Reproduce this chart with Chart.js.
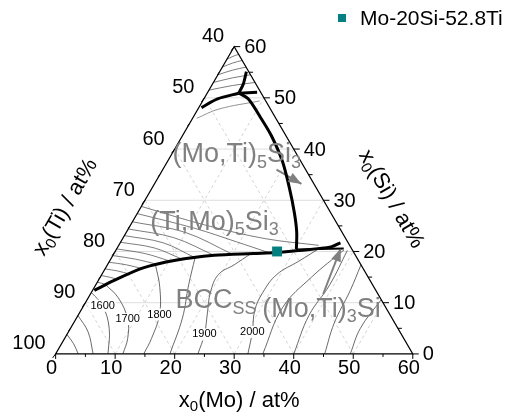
<!DOCTYPE html>
<html>
<head>
<meta charset="utf-8">
<script src="https://cdn.jsdelivr.net/npm/chart.js@4.4.0/dist/chart.umd.min.js"></script>
<style>
body{margin:0;background:#fff}
canvas{display:block}
</style>
</head>
<body>
<canvas id="c" width="511" height="416"></canvas>
<script>
// all compositions are [x(Mo), x(Si)] in at%, x(Ti) = 100 - Mo - Si
var alloyName = 'Mo-20Si-52.8Ti';
var alloy = [[27.2, 20]];

var moTicks = [0, 10, 20, 30, 40, 50, 60];
var siTicks = [0, 10, 20, 30, 40, 50, 60];
var tiTicks = [100, 90, 80, 70, 60, 50, 40];

// thick phase boundaries (liquidus valleys)
var valleyBcc = [[0.3,12.4],[2.6,14.3],[6.3,16.8],[11,18.3],[17,19.25],[23.4,19.6],[27.35,19.8],[30.8,20.2],[35.8,20.9],[37.0,21.7]];
var valleyBcc2 = [[30.2,20.4],[34,20.5],[38.1,20.6]];
var valley53 = [[5.4,50.9],[7.45,49.8],[11.1,46.4],[14.95,42.6],[19.3,37.6],[23,32.5],[26.3,27.6],[28.6,23.8],[30.2,20.5]];
var valleyTopLeft = [[0.45,48.1],[2.3,49.8],[5.3,50.9]];
var valleyTopUp = [[5.3,50.9],[5.2,52.6],[4.5,55.1]];
var valleyTopRight = [[5.3,50.9],[8.3,51.1]];

// (Ti,Mo)5Si3 liquidus isotherms (dense hatching)
var hatchLeft = [
  [[0,14],[0.8,13.8],[1.5,13.6]],
  [[0,15.3],[1.5,15],[3,14.6]],
  [[0,16.6],[2.3,16.2],[4.6,15.6]],
  [[0,17.9],[3.2,17.4],[6.4,16.6]],
  [[0,19.2],[4.2,18.5],[8.3,17.5]],
  [[0,20.5],[5.2,19.6],[10.2,18.1]],
  [[0,21.8],[6.2,20.7],[12,18.5]],
  [[0,23.1],[7.2,21.7],[14,18.8]],
  [[0,24.4],[8.5,22.7],[17,19.25]],
  [[0,25.8],[10,23.7],[20,19.45]],
  [[0,27.4],[11.2,24.5],[19.4,21.9],[26,19.75]],
  [[0,28.8],[12.4,25.2],[24,22.5],[33.6,21.2]]
];
// Si-rich corner isotherms
var hatchTop = [
  [[0,51.5],[3.5,52.4],[7,53]],
  [[0,53],[2.75,53.9],[5.5,54.5]],
  [[0,54.5],[2,55.4],[4,56]],
  [[0,56],[1.35,56.8],[2.7,57.3]],
  [[0,57.5],[0.75,58.1],[1.5,58.5]]
];
var arc53 = [[0.7,46],[3.5,47.8],[9.6,49.4]];

// BCC and (Mo,Ti)3Si liquidus isotherms
var isoLines = [
  [[0,3.8],[2,2],[3.8,0]],
  [[0,7.5],[3.3,4.3],[6.3,0]],
  [[0,12],[3.2,9.4],[6.5,5],[8.8,0]],
  [[1.5,13.6],[5,11],[8.7,6.8],[10.6,3],[11.3,0]],
  [[8,17.5],[11,13],[13.6,7.7],[14.6,3],[14.8,0]],
  [[14,18.9],[15.6,13.5],[17.8,7],[19.2,0]],
  [[23,19.55],[21.3,17.4],[19.6,15.5],[20,12],[21.5,8],[23.1,3.8],[23.9,0]],
  [[34,20.6],[31.8,18.1],[29.4,15.5],[28.8,12],[29.2,8.5],[30.9,4.3],[32.3,0]],
  [[34.8,0],[33.6,9],[35.5,15],[38.3,20.3]],
  [[40,0],[38.8,7.5],[39.3,13.5],[38.9,20.2]],
  [[45.2,0],[43.8,6],[43.3,12.4],[42.6,17.4]],
  [[49.5,0],[48.7,5],[49.4,10.6]]
];
var isoNames = ['1600', '1700', '1800', '1900', '2000'];
var isoAt = [[3.2,9.4],[8.7,6.8],[13.6,7.7],[23.1,3.8],[30.9,4.3]];

// arrows from phase labels
var arrow53 = [[19.1,36.0],[24.7,33.2]];
var arrow3Si = [[39.1,11.7],[37.6,20.6]];

// phase labels: [text parts, anchor (left, baseline)]
var phaseLabels = [
  [[['(Mo,Ti)',0],['5',1],['Si',0],['3',1]], [0.93,37.4]],
  [[['(Ti,Mo)',0],['5',1],['Si',0],['3',1]], [3.8,24.2]],
  [[['BCC',0],['SS',1]], [15.7,8.9]],
  [[['(Mo,Ti)',0],['3',1],['Si',0]], [31.1,7.2]]
];

var FONT = 'Arial, "Liberation Sans", sans-serif';
var GRAY = '#808080';
var TEAL = '#008080';

function T(mo, si) { return {x: mo + si / 2, y: si * Math.sqrt(3) / 2}; }
function pts(arr) { return arr.map(function (p) { return T(p[0], p[1]); }); }
function curve(arr, color, width, tension) {
  return {data: pts(arr), showLine: true, borderColor: color, borderWidth: width,
    pointRadius: 0, tension: tension, fill: false};
}

var datasets = [];
datasets.push({label: alloyName, data: pts(alloy), pointStyle: 'rect', pointRadius: 7,
  backgroundColor: TEAL, borderColor: TEAL, borderWidth: 0, showLine: false});
[valleyBcc, valley53, valleyTopLeft, valleyTopUp].forEach(function (v) { datasets.push(curve(v, '#000', 3, 0.3)); });
datasets.push(curve(valleyBcc2, '#000', 2, 0.2));
datasets.push(curve(valleyTopRight, '#000', 3, 0));
datasets.push(curve(arrow53, GRAY, 2, 0));
datasets.push(curve(arrow3Si, GRAY, 2, 0));
hatchLeft.forEach(function (h) { datasets.push(curve(h, '#5a5a5a', 0.8, 0.35)); });
hatchTop.forEach(function (h) { datasets.push(curve(h, '#5a5a5a', 0.8, 0.35)); });
datasets.push(curve(arc53, '#777', 0.8, 0.4));
isoLines.forEach(function (h) { datasets.push(curve(h, '#444', 0.8, 0.4)); });

function rich(ctx, parts, x, y, size, color, align) {
  var subSize = Math.round(size * 0.68);
  var w = 0;
  parts.forEach(function (p) {
    ctx.font = (p[1] ? subSize : size) + 'px ' + FONT;
    w += ctx.measureText(p[0]).width;
  });
  var cx = align === 'center' ? x - w / 2 : x;
  ctx.fillStyle = color;
  ctx.textAlign = 'left';
  ctx.textBaseline = 'alphabetic';
  parts.forEach(function (p) {
    ctx.font = (p[1] ? subSize : size) + 'px ' + FONT;
    ctx.fillText(p[0], cx, y + (p[1] ? size * 0.2 : 0));
    cx += ctx.measureText(p[0]).width;
  });
}

var ternaryPlugin = {
  id: 'ternary',
  beforeDatasetsDraw: function (chart) {
    var ctx = chart.ctx, sx = chart.scales.x, sy = chart.scales.y;
    function P(mo, si) { var c = T(mo, si); return [sx.getPixelForValue(c.x), sy.getPixelForValue(c.y)]; }
    function seg(a, b) { ctx.beginPath(); ctx.moveTo(a[0], a[1]); ctx.lineTo(b[0], b[1]); ctx.stroke(); }
    ctx.save();
    ctx.lineWidth = 0.8;
    for (var k = 10; k < 60; k += 10) {
      ctx.strokeStyle = '#d4d4d4';
      ctx.setLineDash([]);
      seg(P(0, k), P(60 - k, k));
      ctx.strokeStyle = '#c8c8c8';
      ctx.setLineDash([3, 3]);
      seg(P(k, 0), P(k, 60 - k));
      seg(P(k, 0), P(0, k));
    }
    ctx.restore();
  },
  afterDatasetsDraw: function (chart) {
    var ctx = chart.ctx, sx = chart.scales.x, sy = chart.scales.y;
    function P(mo, si) { var c = T(mo, si); return [sx.getPixelForValue(c.x), sy.getPixelForValue(c.y)]; }
    ctx.save();
    // triangle frame
    var a = P(0, 0), b = P(60, 0), c = P(0, 60);
    ctx.strokeStyle = '#000';
    ctx.lineWidth = 1.2;
    ctx.beginPath();
    ctx.moveTo(a[0], a[1]); ctx.lineTo(b[0], b[1]); ctx.lineTo(c[0], c[1]); ctx.closePath();
    ctx.stroke();
    // ticks
    ctx.lineWidth = 1;
    for (var v = 0; v <= 60; v += 5) {
      var len = v % 10 === 0 ? 5 : 3;
      var p = P(v, 0);
      ctx.beginPath(); ctx.moveTo(p[0], p[1]); ctx.lineTo(p[0], p[1] + len); ctx.stroke();
      p = P(60 - v, v);
      ctx.beginPath(); ctx.moveTo(p[0], p[1]); ctx.lineTo(p[0] + len + 1, p[1]); ctx.stroke();
      p = P(0, v);
      ctx.beginPath(); ctx.moveTo(p[0], p[1]); ctx.lineTo(p[0] - len * 0.6, p[1] + len * 0.8); ctx.stroke();
    }
    // tick labels
    ctx.fillStyle = '#000';
    ctx.font = '20px ' + FONT;
    ctx.textBaseline = 'middle';
    ctx.textAlign = 'center';
    moTicks.forEach(function (m) { var q = P(m, 0); ctx.fillText(String(m), q[0] - 4, q[1] + 15); });
    ctx.textAlign = 'left';
    siTicks.forEach(function (s) { var q = P(60 - s, s); ctx.fillText(String(s), q[0] + 10, q[1] + 1); });
    ctx.textAlign = 'right';
    tiTicks.forEach(function (t) { var q = P(0, 100 - t); ctx.fillText(String(t), q[0] - 10, q[1] - 10); });
    // axis titles
    var bt = P(30, 0);
    rich(ctx, [['x', 0], ['0', 1], ['(Mo) / at%', 0]], bt[0] + 5, bt[1] + 53, 22, '#000', 'center');
    var rt = P(45, 30);
    ctx.save();
    ctx.translate(rt[0] - 20, rt[1] - 2);
    ctx.rotate(Math.PI / 3);
    rich(ctx, [['x', 0], ['0', 1], ['(Si) / at%', 0]], 0, 8, 22, '#000', 'center');
    ctx.restore();
    var lt = P(0, 30);
    ctx.save();
    ctx.translate(lt[0] - 81, lt[1] + 6);
    ctx.rotate(-Math.PI / 3);
    rich(ctx, [['x', 0], ['0', 1], ['(Ti) / at%', 0]], 0, 8, 22, '#000', 'center');
    ctx.restore();
    // isotherm labels
    ctx.font = '11px ' + FONT;
    ctx.textAlign = 'center';
    ctx.textBaseline = 'middle';
    isoNames.forEach(function (n, i) {
      var q = P(isoAt[i][0], isoAt[i][1]);
      var w = ctx.measureText(n).width;
      ctx.fillStyle = '#fff';
      ctx.fillRect(q[0] - w / 2 - 1, q[1] - 6, w + 2, 12);
      ctx.fillStyle = '#000';
      ctx.fillText(n, q[0], q[1]);
    });
    // arrow heads
    [arrow53, arrow3Si].forEach(function (ar) {
      var p0 = P(ar[0][0], ar[0][1]), p1 = P(ar[1][0], ar[1][1]);
      var ang = Math.atan2(p1[1] - p0[1], p1[0] - p0[0]);
      ctx.fillStyle = GRAY;
      ctx.beginPath();
      ctx.moveTo(p1[0], p1[1]);
      ctx.lineTo(p1[0] - 13 * Math.cos(ang) + 5 * Math.sin(ang), p1[1] - 13 * Math.sin(ang) - 5 * Math.cos(ang));
      ctx.lineTo(p1[0] - 13 * Math.cos(ang) - 5 * Math.sin(ang), p1[1] - 13 * Math.sin(ang) + 5 * Math.cos(ang));
      ctx.closePath();
      ctx.fill();
    });
    // phase labels
    phaseLabels.forEach(function (l) {
      var q = P(l[1][0], l[1][1]);
      rich(ctx, l[0], q[0], q[1], 27, GRAY, 'left');
    });
    // legend
    ctx.fillStyle = TEAL;
    ctx.fillRect(338, 14, 8, 8);
    ctx.fillStyle = '#000';
    ctx.font = '21px ' + FONT;
    ctx.textAlign = 'left';
    ctx.textBaseline = 'alphabetic';
    ctx.fillText(alloyName, 360, 25);
    ctx.restore();
  }
};

new Chart(document.getElementById('c'), {
  type: 'scatter',
  data: {datasets: datasets},
  options: {
    responsive: false,
    animation: false,
    layout: {padding: 0},
    plugins: {legend: {display: false}, tooltip: {enabled: false}},
    scales: {
      x: {type: 'linear', display: false, min: -50 / 6.12, max: 461 / 6.12},
      y: {type: 'linear', display: false, min: -57 / 6.12, max: 359 / 6.12}
    }
  },
  plugins: [ternaryPlugin]
});
</script>
</body>
</html>
